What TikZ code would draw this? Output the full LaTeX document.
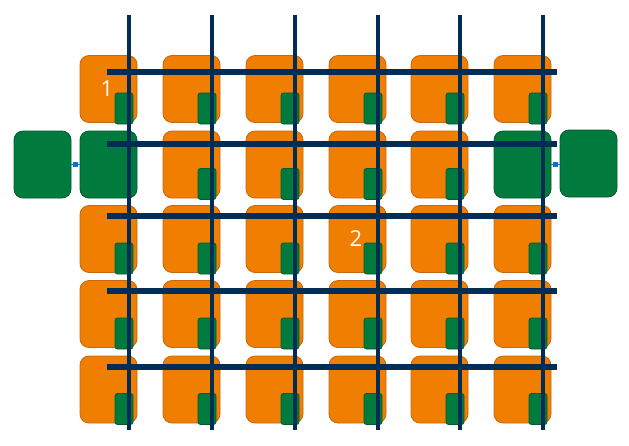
\documentclass[tikz,border=0pt]{standalone}
\usepackage{fontspec}
\setmainfont{Open Sans}
\definecolor{tileorange}{RGB}{240,126,0}
\definecolor{tileorangeb}{RGB}{196,104,20}
\definecolor{tilegreen}{RGB}{0,122,61}
\definecolor{tilegreenb}{RGB}{0,92,46}
\definecolor{navy}{RGB}{0,45,85}
\definecolor{linkblue}{RGB}{25,110,180}
\begin{document}
\begin{tikzpicture}[x=1pt,y=-1pt,
  tile/.style={draw=tileorangeb,fill=tileorange,line width=0.8pt,rounded corners=9pt,
    minimum width=57pt,minimum height=67pt,inner sep=0pt,outer sep=0pt,anchor=north west},
  gtile/.style={tile,draw=tilegreenb,fill=tilegreen},
  port/.style={draw=tilegreenb,fill=tilegreen,line width=0.8pt,rounded corners=2.5pt,
    minimum width=18pt,minimum height=31pt,inner sep=0pt,outer sep=0pt,anchor=south east},
  bus/.style={navy,line width=5.5pt},
  vbus/.style={navy,line width=4pt},
  link/.style={linkblue,line width=1.5pt},
  linkbox/.style={fill=linkblue,minimum size=5pt,inner sep=0pt},
  lbl/.style={text=white,font=\fontsize{22}{26}\selectfont,inner sep=0pt}]
\useasboundingbox (0,0) rectangle (629,445);
% tiles
\foreach \c/\x in {1/80,2/163,3/246,4/329,5/411,6/494}{
  \foreach \r/\y in {1/55.5,2/131,3/205.5,4/280.5,5/356}{
    \ifnum\r=2
      \ifnum\c=1 \node[gtile] (t\r\c) at (\x,\y) {};
      \else\ifnum\c=6 \node[gtile] (t\r\c) at (\x,\y) {};
      \else
        \node[tile] (t\r\c) at (\x,\y) {};
        \node[port] (p\r\c) at ([xshift=-4pt,yshift=-1.5pt]t\r\c.south east) {};
      \fi\fi
    \else
      \node[tile] (t\r\c) at (\x,\y) {};
      \node[port] (p\r\c) at ([xshift=-4pt,yshift=-1.5pt]t\r\c.south east) {};
    \fi
  }
}
% external green boxes
\node[gtile] (L) at (14,131) {};
\node[gtile] (R) at (560,130) {};
% links
\draw[link] (L.east) -- (t21.west) node[midway,linkbox] (lk1) {};
\draw[link] (t26.east) -- (R.west |- t26.east) node[midway,linkbox] (lk2) {};
% vertical lines
\foreach \i/\x in {1/129,2/212,3/295,4/378,5/460,6/542.5}{
  \coordinate (vt\i) at (\x,15);
  \coordinate (vb\i) at (\x,430);
  \draw[vbus] (vt\i) -- (vb\i);
}
% horizontal lines
\foreach \i/\y in {1/72,2/144,3/216,4/291,5/367}{
  \coordinate (hl\i) at (107,\y);
  \coordinate (hr\i) at (557,\y);
  \draw[bus] (hl\i) -- (hr\i);
}
% labels
\node[lbl] (n1) at (107,89) {1};
\node[lbl] (n2) at (356,239) {2};
\end{tikzpicture}
\end{document}
